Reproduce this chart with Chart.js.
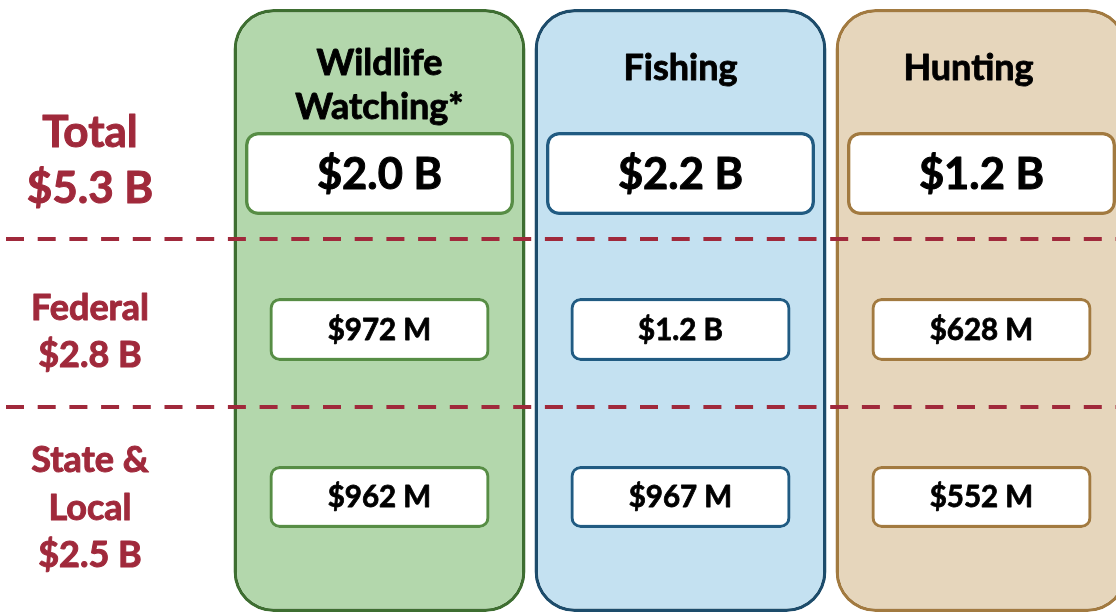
<!DOCTYPE html>
<html><head><meta charset="utf-8">
<script src="https://cdn.jsdelivr.net/npm/chart.js@4.4.1/dist/chart.umd.min.js"></script>
<style>
html,body{margin:0;padding:0;overflow:hidden;background:#fff;width:1116px;height:613px}
canvas{display:block}
</style>
</head><body>
<canvas id="c" width="1132" height="613"></canvas>
<script>
// ---- data ----
const categories = [['Wildlife', 'Watching*'], ['Fishing'], ['Hunting']];
const totalValues = ['$2.0 B', '$2.2 B', '$1.2 B'];
const federalValues = ['$972 M', '$1.2 B', '$628 M'];
const stateLocalValues = ['$962 M', '$967 M', '$552 M'];
const rowLabels = [['Total', '$5.3 B'], ['Federal', '$2.8 B'], ['State &', 'Local', '$2.5 B']];

// ---- layout / style (not data) ----
const FONT = 'Lato, "Open Sans", sans-serif';
const RED = '#a0293b';
const colFill = ['#b3d7ac', '#c4e1f1', '#e6d6bc'];
const colBorder = ['#3e6e31', '#1d4c6b', '#a27a40'];
const boxBorder = ['#578d45', '#215b82', '#a27a40'];
const SPAN_COLUMN = [9, 612];
const SPAN_TOTAL = [132, 215];
const SPAN_FED = [298, 361];
const SPAN_STATE = [466, 528];
const DIVIDERS = [239, 407];
const HEADER_DX = [0, 0, -13];
const ROW_LABEL_STYLE = [
  {size: 44, lh: 56, baseline0: 147},
  {size: 36, lh: 47, baseline0: 320},
  {size: 36, lh: 47.5, baseline0: 472}
];
const LABEL_X = 90;

const spanData = (s) => categories.map(() => s.slice());

function boldText(ctx, t, x, y, w) {
  ctx.lineWidth = w;
  ctx.lineJoin = 'round';
  ctx.strokeText(t, x, y);
  ctx.fillText(t, x, y);
}

const overlay = {
  id: 'overlay',
  afterDatasetsDraw(chart) {
    const {ctx, scales: {x, y}} = chart;
    ctx.save();
    // dividers
    ctx.strokeStyle = RED;
    ctx.lineWidth = 4;
    ctx.setLineDash([18, 13.7]);
    DIVIDERS.forEach(v => {
      const py = y.getPixelForValue(v);
      ctx.beginPath();
      ctx.moveTo(6, py);
      ctx.lineTo(chart.width, py);
      ctx.stroke();
    });
    ctx.setLineDash([]);
    // row labels
    ctx.fillStyle = RED;
    ctx.strokeStyle = RED;
    ctx.textAlign = 'center';
    ctx.textBaseline = 'alphabetic';
    rowLabels.forEach((lines, r) => {
      const st = ROW_LABEL_STYLE[r];
      ctx.font = `bold ${st.size}px ${FONT}`;
      lines.forEach((t, i) => boldText(ctx, t, LABEL_X, st.baseline0 + i * st.lh, 1));
    });
    // headers
    ctx.fillStyle = '#000';
    ctx.strokeStyle = '#000';
    ctx.font = `bold 36px ${FONT}`;
    categories.forEach((lines, i) => {
      const px = x.getPixelForValue(i) + HEADER_DX[i];
      if (lines.length === 1) {
        boldText(ctx, lines[0], px, 80, 0.9);
      } else {
        lines.forEach((t, j) => boldText(ctx, t, px, 75 + j * 44, 0.9));
      }
    });
    // box values
    const drawVals = (vals, span, size, w) => {
      ctx.font = `bold ${size}px ${FONT}`;
      const cy = y.getPixelForValue((span[0] + span[1]) / 2);
      vals.forEach((t, i) => boldText(ctx, t, x.getPixelForValue(i), cy + size * 0.355, w));
    };
    drawVals(totalValues, SPAN_TOTAL, 43.5, 1);
    drawVals(federalValues, SPAN_FED, 29.5, 0.8);
    drawVals(stateLocalValues, SPAN_STATE, 29.5, 0.8);
    ctx.restore();
  }
};

new Chart(document.getElementById('c'), {
  type: 'bar',
  data: {
    labels: categories.map(c => c.join(' ')),
    datasets: [
      {data: spanData(SPAN_TOTAL), backgroundColor: '#fff', borderColor: boxBorder, borderWidth: 3.5,
       borderRadius: 13, borderSkipped: false, barPercentage: 269 / 301, order: 1},
      {data: spanData(SPAN_FED), backgroundColor: '#fff', borderColor: boxBorder, borderWidth: 3.2,
       borderRadius: 10, borderSkipped: false, barPercentage: 220 / 301, order: 1},
      {data: spanData(SPAN_STATE), backgroundColor: '#fff', borderColor: boxBorder, borderWidth: 3.2,
       borderRadius: 10, borderSkipped: false, barPercentage: 220 / 301, order: 1},
      {data: spanData(SPAN_COLUMN), backgroundColor: colFill, borderColor: colBorder, borderWidth: 3.5,
       borderRadius: 40, borderSkipped: false, barPercentage: 292 / 301, order: 3}
    ]
  },
  options: {
    responsive: false,
    animation: false,
    events: [],
    layout: {padding: {left: 229, right: 0, top: 0, bottom: 0}},
    datasets: {bar: {grouped: false, categoryPercentage: 1}},
    plugins: {legend: {display: false}, tooltip: {enabled: false}},
    scales: {
      x: {type: 'category', display: false, offset: true},
      y: {type: 'linear', display: false, reverse: true, min: 0, max: 613}
    }
  },
  plugins: [overlay]
});
</script>
</body></html>
